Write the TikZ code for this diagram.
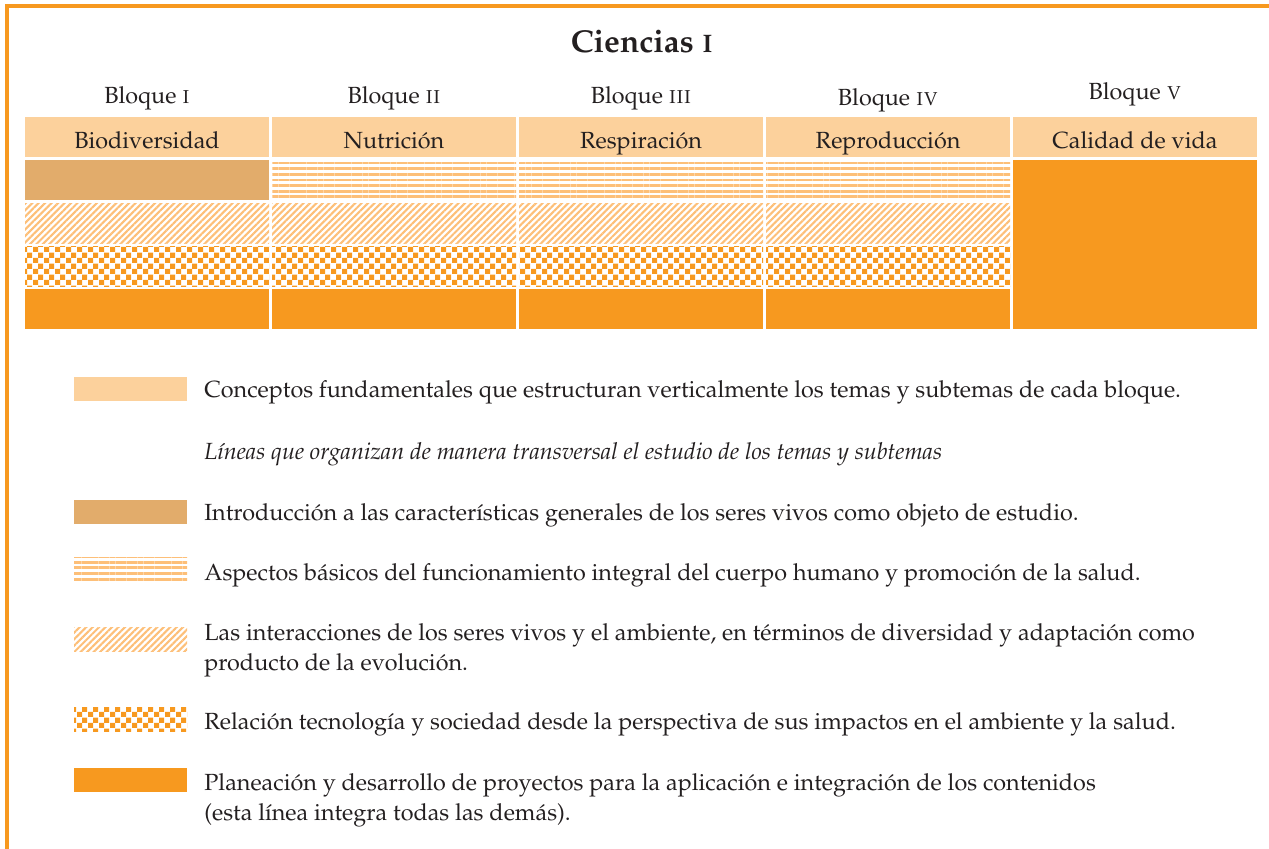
\documentclass[tikz,border=0pt]{standalone}
\usepackage[T1]{fontenc}
\usepackage{mathpazo}
\usepackage{tikz}
\usetikzlibrary{patterns.meta}
\usepackage{xcolor}
\definecolor{BloqueOrange}{HTML}{F7991F}
\definecolor{BloquePeach}{HTML}{FCD19C}
\definecolor{BloqueTan}{HTML}{E2AC6B}
\definecolor{BloqueStripe}{HTML}{FDBF78}
\definecolor{BloqueText}{HTML}{231F20}

\tikzdeclarepattern{
  name=bigchecker, type=uncolored,
  bounding box={(0pt,0pt) and (6.3pt,6.3pt)},
  tile size={(6.3pt,6.3pt)},
  code={\fill (0pt,0pt) rectangle (3.15pt,3.15pt);
        \fill (3.15pt,3.15pt) rectangle (6.3pt,6.3pt);}
}

\tikzset{
  txt/.style={inner sep=0pt, anchor=base, text=BloqueText, font=\fontsize{13.3}{17}\selectfont},
  ley/.style={txt, anchor=base west, align=left},
  header/.style={fill=BloquePeach},
  intro/.style={fill=BloqueTan},
  hlines/.style={pattern={Lines[angle=0,distance=3.2pt,line width=1.6pt]}, pattern color=BloqueStripe},
  dlines/.style={pattern={Lines[angle=45,distance=2.6pt,line width=1.2pt]}, pattern color=BloqueStripe},
  checker/.style={pattern=bigchecker, pattern color=BloqueOrange},
  proyecto/.style={fill=BloqueOrange}
}

\begin{document}
\begin{tikzpicture}[x=0.02cm,y=-0.02cm]
    \useasboundingbox (0,0) rectangle (1269,849);
    % marco
    \draw[BloqueOrange, line width=2.5pt] (7,849) -- (7,6) -- (1269,6);

    \node[txt, font=\fontsize{18}{20}\selectfont\bfseries] (titulo) at (642,52) {Ciencias \textsc{i}};

    % bloques
    \foreach \i/\num/\tema/\ly in {1/i/Biodiversidad/103,2/ii/Nutrición/103,3/iii/Respiración/103,4/iv/Reproducción/105,5/v/Calidad de vida/99} {
      \pgfmathsetmacro{\xa}{25+(\i-1)*247}
      \pgfmathsetmacro{\xm}{\xa+122}
      \fill[header] (\xa,117) rectangle ++(244,40);
      \node[txt] (tema\i) at (\xm,148) {\tema};
      \node[txt] (bloque\i) at (\xm,\ly) {Bloque \textsc{\num}};
    }
    \fill[intro] (25,160) rectangle ++(244,40);
    \foreach \i in {2,3,4} {
      \pgfmathsetmacro{\xa}{25+(\i-1)*247}
      \fill[hlines] (\xa,160) rectangle ++(244,40);
    }
    \foreach \i in {1,...,4} {
      \pgfmathsetmacro{\xa}{25+(\i-1)*247}
      \fill[dlines] (\xa,203) rectangle ++(244,40);
      \fill[checker] (\xa,246) rectangle ++(244,40);
      \fill[proyecto] (\xa,289) rectangle ++(244,40);
    }
    \fill[proyecto] (1013,160) rectangle (1257,329);

    % leyenda
    \foreach \y/\sty in {377/header,500/intro,557/hlines,627/dlines,707/checker,768/proyecto} {
      \fill[\sty] (74,\y) rectangle ++(113,24);
    }
    \node[ley] (ley1) at (204,397) {Conceptos fundamentales que estructuran verticalmente los temas y subtemas de cada bloque.};
    \node[ley, font=\fontsize{13.3}{17}\selectfont\itshape] (lineas) at (204,459) {Líneas que organizan de manera transversal el estudio de los temas y subtemas};
    \node[ley] (ley2) at (204,520) {Introducción a las características generales de los seres vivos como objeto de estudio.};
    \node[ley] (ley3) at (204,580) {Aspectos básicos del funcionamiento integral del cuerpo humano y promoción de la salud.};
    \node[ley] (ley4) at (204,670) {Las interacciones de los seres vivos y el ambiente, en términos de diversidad y adaptación como\\producto de la evolución.};
    \node[ley] (ley5) at (204,729) {Relación tecnología y sociedad desde la perspectiva de sus impactos en el ambiente y la salud.};
    \node[ley] (ley6) at (204,820) {Planeación y desarrollo de proyectos para la aplicación e integración de los contenidos\\(esta línea integra todas las demás).};
\end{tikzpicture}
\end{document}
